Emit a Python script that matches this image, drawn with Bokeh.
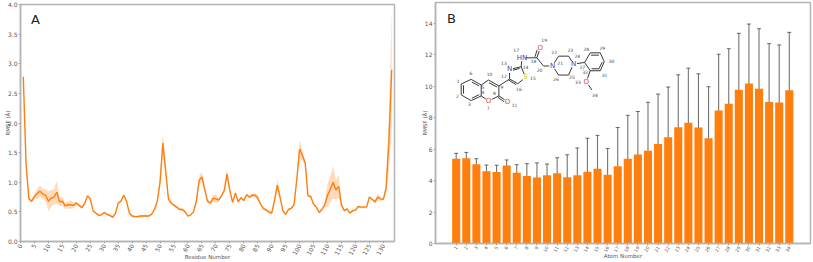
from bokeh.plotting import figure
from bokeh.layouts import row
from bokeh.models import FixedTicker, Label, Whisker, TeeHead, ColumnDataSource
from bokeh.embed import file_html
from bokeh.resources import INLINE
from bokeh.core.properties import value

residues = list(range(1, 134))
rmsf = [2.78,1.30,0.72,0.68,0.76,0.81,0.85,0.80,0.78,0.68,
        0.73,0.75,0.83,0.67,0.68,0.60,0.62,0.62,0.61,0.65,
        0.61,0.57,0.64,0.77,0.72,0.52,0.48,0.44,0.45,0.49,
        0.46,0.44,0.41,0.47,0.65,0.68,0.78,0.68,0.48,0.43,
        0.42,0.42,0.43,0.43,0.43,0.43,0.46,0.54,0.68,1.00,
        1.66,1.20,0.72,0.65,0.61,0.58,0.54,0.54,0.50,0.43,
        0.45,0.50,0.68,1.03,1.09,0.88,0.68,0.65,0.73,0.72,
        0.70,0.77,0.86,1.14,0.86,0.66,0.82,0.67,0.74,0.69,
        0.79,0.75,0.78,0.78,0.74,0.63,0.56,0.53,0.50,0.48,
        0.69,0.95,0.75,0.52,0.46,0.54,0.56,0.62,1.05,1.56,
        1.45,1.33,0.77,0.76,0.63,0.58,0.49,0.54,0.62,0.78,
        0.88,1.00,0.87,0.93,0.62,0.52,0.55,0.48,0.52,0.53,
        0.59,0.58,0.58,0.58,0.75,0.71,0.67,0.75,0.72,0.71,
        0.90,1.70,2.90]
rmsf_sd = [0.10,0.08,0.03,0.03,0.05,0.09,0.09,0.09,0.10,0.17,
           0.14,0.13,0.19,0.07,0.08,0.05,0.06,0.07,0.05,0.03,
           0.02,0.02,0.02,0.02,0.02,0.02,0.02,0.02,0.02,0.02,
           0.02,0.02,0.02,0.02,0.02,0.02,0.02,0.02,0.02,0.02,
           0.02,0.02,0.02,0.02,0.02,0.02,0.02,0.02,0.03,0.10,
           0.18,0.10,0.04,0.02,0.02,0.02,0.02,0.02,0.02,0.01,
           0.01,0.02,0.04,0.08,0.08,0.04,0.03,0.03,0.06,0.07,
           0.03,0.02,0.03,0.08,0.03,0.02,0.02,0.02,0.02,0.02,
           0.02,0.03,0.03,0.04,0.04,0.02,0.02,0.02,0.03,0.03,
           0.03,0.10,0.04,0.02,0.02,0.02,0.02,0.02,0.04,0.15,
           0.10,0.03,0.02,0.02,0.02,0.02,0.02,0.02,0.04,0.20,
           0.22,0.28,0.16,0.20,0.05,0.02,0.02,0.02,0.02,0.02,
           0.02,0.02,0.02,0.02,0.02,0.02,0.03,0.06,0.03,0.02,
           0.10,0.50,1.00]
residue_ticks = list(range(0, 131, 5))
rmsf_ticks = [0, 0.5, 1, 1.5, 2, 2.5, 3, 3.5, 4]

atoms = list(range(1, 35))
atom_rmsf = [5.40,5.43,5.05,4.60,4.55,4.97,4.50,4.30,4.20,4.35,4.47,4.22,4.35,4.57,4.75,4.38,4.92,
             5.40,5.67,5.90,6.33,6.77,7.40,7.68,7.38,6.70,8.46,8.90,9.79,10.19,9.85,9.00,8.97,9.75]
atom_upper = [5.74,5.80,5.40,5.00,4.98,5.32,5.02,5.08,5.13,5.06,5.46,5.65,6.08,6.70,6.88,6.05,7.38,
              8.16,8.40,8.99,9.51,9.96,10.74,11.16,10.80,9.98,12.05,12.40,13.38,13.97,13.67,12.72,12.64,13.44]
atom_lower = [5.02,5.08,4.70,4.22,4.11,4.60,3.95,3.46,3.23,3.52,3.44,2.76,2.70,2.45,2.60,2.70,2.51,
              2.66,2.97,2.87,3.14,3.59,4.09,4.24,3.99,3.46,4.89,5.42,6.20,6.43,6.03,5.32,5.30,6.08]
atom_y_ticks = [0, 2, 4, 6, 8, 10, 12, 14]

ORANGE = "#ff7f0e"
SPINE = "#b4b4b4"
TXT = "#555555"


def style(p, xlabel, ylabel, x_standoff, y_standoff):
    p.frame_align = False
    p.grid.visible = False
    p.outline_line_color = SPINE
    p.outline_line_width = 1.5
    p.xaxis[0].axis_label = xlabel
    p.yaxis[0].axis_label = ylabel
    p.xaxis[0].axis_label_standoff = x_standoff
    p.yaxis[0].axis_label_standoff = y_standoff
    for ax in (p.xaxis[0], p.yaxis[0]):
        ax.axis_line_color = SPINE
        ax.axis_line_width = 1.5
        ax.major_tick_line_color = "#888888"
        ax.major_tick_line_width = 0.6
        ax.major_tick_in = 0
        ax.major_tick_out = 2
        ax.minor_tick_line_color = None
        ax.major_label_text_color = TXT
        ax.major_label_text_font = "DejaVu Sans"
        ax.major_label_standoff = 1
        ax.axis_label_text_font = "DejaVu Sans"
        ax.axis_label_text_font_style = "normal"
        ax.axis_label_text_font_size = "5.5px"
        ax.axis_label_text_color = TXT


def text(p, txt, x, y, size, color="#222222"):
    # x, y are pixels from the panel frame's lower left corner
    p.add_layout(Label(x=x, y=y, x_units="screen", y_units="screen", text=txt,
                       text_font_size=size, text_color=color, text_font="DejaVu Sans",
                       text_align="center", text_baseline="middle"))


# Panel A
pa = figure(width=415, height=262, x_range=(0, 134), y_range=(0, 4),
            toolbar_location=None, output_backend="svg",
            min_border_left=20, min_border_right=21, min_border_top=4, min_border_bottom=21)
style(pa, "Residue Number", "RMSF (Å)", -6, -6)
pa.xaxis[0].ticker = FixedTicker(ticks=residue_ticks)
pa.yaxis[0].ticker = FixedTicker(ticks=rmsf_ticks)
pa.yaxis[0].major_label_overrides = {t: f"{t:.1f}" for t in rmsf_ticks}
pa.xaxis[0].major_label_orientation = 1.05
pa.xaxis[0].major_label_text_font_size = "6px"
pa.yaxis[0].major_label_text_font_size = "6px"
pa.varea(x=residues, y1=[v - s for v, s in zip(rmsf, rmsf_sd)],
         y2=[v + s for v, s in zip(rmsf, rmsf_sd)], fill_color=ORANGE, fill_alpha=0.28)
pa.line(residues, rmsf, line_color=ORANGE, line_width=1.4)
text(pa, "A", 15, 222, "13px")

# Panel B
pb = figure(width=398, height=262, x_range=(-1.05, 36.1), y_range=(0, 15.34),
            toolbar_location=None, output_backend="svg",
            min_border_left=20, min_border_right=3, min_border_top=2, min_border_bottom=18)
style(pb, "Atom Number", "RMSF (Å)", -3, -6)
pb.xaxis[0].ticker = FixedTicker(ticks=atoms)
pb.yaxis[0].ticker = FixedTicker(ticks=atom_y_ticks)
pb.xaxis[0].major_label_orientation = 1.05
pb.xaxis[0].major_label_text_font_size = "4.5px"
pb.yaxis[0].major_label_text_font_size = "6px"
pb.vbar(x=atoms, top=atom_rmsf, width=0.8, fill_color=ORANGE, line_color=None)
src = ColumnDataSource(dict(x=atoms, upper=atom_upper, lower=atom_lower))
pb.add_layout(Whisker(source=src, base="x", upper="upper", lower="lower",
                      line_color="black", line_alpha=0.55, line_width=1.1,
                      upper_head=TeeHead(size=4, line_color="black", line_alpha=0.7, line_width=0.8),
                      lower_head=TeeHead(size=4, line_color="black", line_alpha=0.7, line_width=0.8)))
text(pb, "B", 16, 225, "13px")

# Molecule inset, as a drawing on the panel's own scales (positions in 3x sketch units)
mol_bonds = [
    (153,238,183,255),(183,255,183,288),(183,288,153,302),(153,302,123,285),(123,285,123,252),(123,252,153,238),
    (183,255,205,240),(205,240,236,258),(236,258,236,288),(236,288,205,303),(205,303,183,288),
    (236,288,262,305),(236,258,268,237),(268,237,268,208),(268,208,303,200),(303,200,316,232),
    (316,232,293,251),(293,251,268,237),(303,200,305,173),(305,173,350,173),(350,173,360,143),
    (350,173,370,198),(370,198,397,197),(397,197,415,168),(415,168,445,168),(445,168,460,192),
    (460,192,445,225),(445,225,415,225),(415,225,397,197),(460,192,493,187),
    (493,187,510,158),(510,158,540,158),(540,158,552,185),(552,185,540,212),(540,212,510,212),(510,212,493,187),
    (510,212,498,245),(498,245,515,270),
]
mol_double = [
    (155,246,177,258),(177,284,155,295),(130,281,130,256),(206,248,230,261),
    (233,292,258,310),(265,240,288,254),(272,212,298,205),(344,170,354,140),
    (512,165,536,165),(546,186,536,206),(514,206,536,206),
]
hetero_x = [205, 262, 268, 316, 305, 360, 397, 460, 498]
hetero_y = [303, 305, 208, 232, 173, 143, 197, 192, 245]
hetero_t = ["O", "O", "N", "S", "HN", "O", "N", "N", "O"]
hetero_c = ["#e8452c", "#e8452c", "#3a3ab8", "#d8d020", "#3a3ab8", "#e8452c", "#3a3ab8", "#3a3ab8", "#e8452c"]
num_x = [114,112,148,188,188,152,204,223,245,208,283,251,251,316,338,296,288,340,372,358,420,402,450,471,455,407,486,498,546,574,553,495,473,524]
num_y = [242,288,313,277,260,219,324,278,262,221,316,229,188,200,233,267,150,184,118,210,190,154,149,167,231,236,202,147,143,183,225,217,245,284]
num_t = [str(a) for a in atoms]


def mx(v):
    return 1 + ((420 + v / 3) - 456) / 10.09


def my(v):
    return (244.3 - v / 3) / 15.79


for bonds in (mol_bonds, mol_double):
    pb.segment(x0=[mx(b[0]) for b in bonds], y0=[my(b[1]) for b in bonds],
               x1=[mx(b[2]) for b in bonds], y1=[my(b[3]) for b in bonds],
               line_color="#222222", line_width=0.9)
pb.scatter(x=[mx(v) for v in hetero_x], y=[my(v) for v in hetero_y], size=7,
           fill_color="white", line_color=None)
pb.text(x=[mx(v) for v in hetero_x], y=[my(v) for v in hetero_y], text=hetero_t,
        text_color=hetero_c, text_font=value("DejaVu Sans"), text_font_size="7px",
        text_align="center", text_baseline="middle")
pb.text(x=[mx(v) for v in num_x], y=[my(v) for v in num_y], text=num_t,
        text_color="#444444", text_font=value("DejaVu Sans"), text_font_size="4.5px",
        text_align="center", text_baseline="middle")

layout = row(pa, pb)
open("out.html", "w").write(file_html(layout, INLINE))
